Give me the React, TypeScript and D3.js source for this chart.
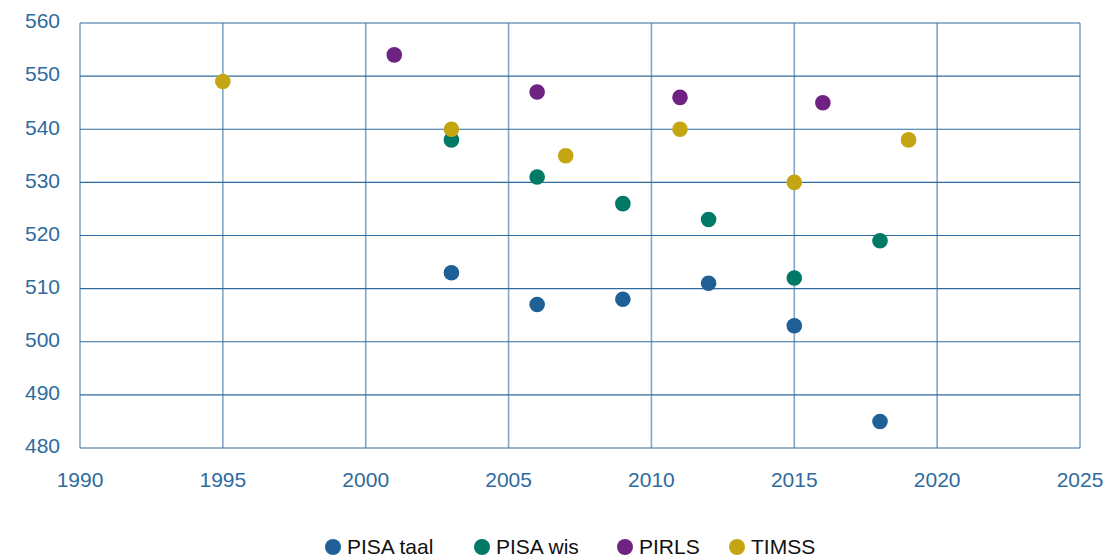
import React from 'react';
import * as d3 from 'd3';

const width = 1107;
const height = 558;
const margin = { top: 23, right: 27, bottom: 110, left: 80 };

const years = [1990, 1995, 2000, 2005, 2010, 2015, 2020, 2025];
const scoreTicks = [480, 490, 500, 510, 520, 530, 540, 550, 560];

const pisaTaalYears = [2003, 2006, 2009, 2012, 2015, 2018];
const pisaTaal = [513, 507, 508, 511, 503, 485];
const pisaWisYears = [2003, 2006, 2009, 2012, 2015, 2018];
const pisaWis = [538, 531, 526, 523, 512, 519];
const pirlsYears = [2001, 2006, 2011, 2016];
const pirls = [554, 547, 546, 545];
const timssYears = [1995, 2003, 2007, 2011, 2015, 2019];
const timss = [549, 540, 535, 540, 530, 538];

const seriesNames = ['PISA taal', 'PISA wis', 'PIRLS', 'TIMSS'];
const colors = ['#1f6096', '#007a66', '#6e2383', '#c4a612'];

const series = [
    { name: seriesNames[0], years: pisaTaalYears, values: pisaTaal, color: colors[0] },
    { name: seriesNames[1], years: pisaWisYears, values: pisaWis, color: colors[1] },
    { name: seriesNames[2], years: pirlsYears, values: pirls, color: colors[2] },
    { name: seriesNames[3], years: timssYears, values: timss, color: colors[3] },
];

const axisColor = '#2e6b9e';
const font = '"Liberation Sans", Arial, sans-serif';

// legend marker centres
const legendX = [333, 482, 625, 737];

export const App = () => {
    const x = d3.scaleLinear().domain([1990, 2025]).range([margin.left, width - margin.right]);
    const y = d3.scaleLinear().domain([480, 560]).range([height - margin.bottom, margin.top]);

    return (
        <svg width={width} height={height} style={{ position: 'absolute', left: 0, top: 0 }}>
            {scoreTicks.map(t => (
                <g key={'y' + t}>
                    <line x1={x(1990)} x2={x(2025)} y1={y(t)} y2={y(t)} stroke={axisColor} strokeWidth={1.2} />
                    <text x={60} y={y(t) - 2} dy="0.35em" textAnchor="end" fill={axisColor}
                        fontFamily={font} fontSize={21}>{t}</text>
                </g>
            ))}
            {years.map(yr => (
                <g key={'x' + yr}>
                    <line x1={x(yr)} x2={x(yr)} y1={y(560)} y2={y(480)} stroke={axisColor}
                        strokeOpacity={0.6} strokeWidth={1.6} />
                    <text x={x(yr)} y={480} dy="0.35em" textAnchor="middle" fill={axisColor}
                        fontFamily={font} fontSize={21}>{yr}</text>
                </g>
            ))}
            {series.map(s => s.values.map((v, i) => (
                <circle key={s.name + i} cx={x(s.years[i])} cy={y(v)} r={7.8} fill={s.color} />
            )))}
            {series.map((s, i) => (
                <g key={'leg' + s.name}>
                    <circle cx={legendX[i]} cy={547} r={8} fill={s.color} />
                    <text x={legendX[i] + 14} y={547} dy="0.35em" fill="#111" fontFamily={font}
                        fontSize={21}>{s.name}</text>
                </g>
            ))}
        </svg>
    );
};

export default App;
